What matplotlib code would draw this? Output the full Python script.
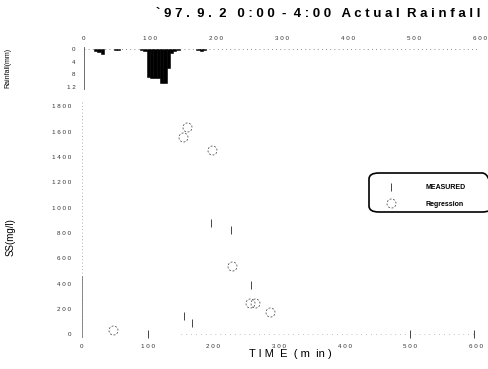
import numpy as np
import matplotlib
matplotlib.use("Agg")
import matplotlib.pyplot as plt
from matplotlib.path import Path
from matplotlib.patches import FancyBboxPatch

plt.rcParams["font.family"] = ["Liberation Sans", "DejaVu Sans"]

# Rainfall (5-minute totals, mm)
rain_time = [15, 20, 25, 45, 50, 85, 90, 95, 100, 105, 110, 115, 120, 125, 130, 135, 140, 170, 175, 180]
rain_mm = [0.6, 1.0, 1.8, 0.3, 0.3, 0.5, 0.8, 8.8, 9.0, 9.0, 9.0, 10.5, 10.5, 6.0, 1.5, 0.8, 0.4, 0.4, 0.8, 0.5]

# Suspended solids
meas_time = [101, 156, 167, 197, 227, 257, 500, 597]
meas_ss = [5, 140, 85, 880, 820, 385, 0, 0]
reg_time = [47, 154, 160, 198, 228, 256, 263, 286]
reg_ss = [32, 1555, 1634, 1452, 537, 245, 245, 174]

x_ticks = [0, 100, 200, 300, 400, 500, 600]
ss_ticks = [0, 200, 400, 600, 800, 1000, 1200, 1400, 1600, 1800]
rain_ticks = [0, 4, 8, 12]


def spaced(v):
    return " ".join(str(v))


def dashed_circle(n=8, gap=0.45):
    verts, codes = [], []
    step = 2 * np.pi / n
    for k in range(n):
        a = np.linspace(k * step, k * step + step * (1 - gap), 5)
        for j, ang in enumerate(a):
            verts.append((np.cos(ang), np.sin(ang)))
            codes.append(Path.MOVETO if j == 0 else Path.LINETO)
    return Path(verts, codes)


fig = plt.figure(figsize=(4.88, 3.69), dpi=100)
fig.patch.set_facecolor("white")

W, H = 488, 369

# ---- rainfall panel ----
ax_r = fig.add_axes([84 / W, 1 - 89 / H, 396 / W, 42 / H])
ax_r.bar(rain_time, rain_mm, width=5, align="edge", color="black", edgecolor="black", linewidth=0.4)
ax_r.set_xlim(0, 600)
ax_r.set_ylim(12.5, -0.5)
for s in ["top", "right", "bottom"]:
    ax_r.spines[s].set_visible(False)
ax_r.spines["left"].set_linewidth(0.6)
ax_r.spines["left"].set_color("#555555")
ax_r.axhline(0, color="#666666", lw=0.6, ls=(0, (1, 4)))
ax_r.xaxis.tick_top()
ax_r.set_xticks(x_ticks)
ax_r.set_xticklabels([spaced(v) for v in x_ticks], fontsize=4.5, color="#333333")
ax_r.set_yticks(rain_ticks)
ax_r.set_yticklabels([spaced(v) for v in rain_ticks], fontsize=4.5, color="#333333")
ax_r.tick_params(length=0, pad=6)
ax_r.tick_params(axis="x", pad=4)

# ---- suspended solids panel ----
ax = fig.add_axes([82 / W, 1 - 338 / H, 394 / W, 238 / H])
ax.set_xlim(0, 600)
ax.set_ylim(-30, 1850)
for s in ["top", "right", "bottom", "left"]:
    ax.spines[s].set_visible(False)
ax.axvline(0, ymin=0.02, ymax=1.0, color="#999999", lw=0.6, ls=(0, (1, 3)))
ax.axvline(0, ymin=0.0, ymax=0.26, color="#777777", lw=0.6)
ax.axhline(0, xmin=0.25, xmax=1.0, color="#888888", lw=0.5, ls=(0, (1, 6)))

ax.plot(meas_time, meas_ss, linestyle="none", marker="|", markersize=6,
        markeredgewidth=0.7, color="#444444", label="MEASURED")
ax.plot(reg_time, reg_ss, linestyle="none", marker=dashed_circle(), markersize=6.5,
        markeredgewidth=0.6, markerfacecolor="none", markeredgecolor="#555555",
        label="Regression")

ax.set_xticks(x_ticks)
ax.set_xticklabels([spaced(v) for v in x_ticks], fontsize=4.5, color="#333333")
ax.set_yticks(ss_ticks)
ax.set_yticklabels([spaced(v) for v in ss_ticks], fontsize=4.5, color="#333333")
ax.tick_params(length=0, pad=8)
ax.tick_params(axis="x", pad=4)
ax.set_xlabel("T I M  E  ( m  in )", fontsize=8)
ax.xaxis.set_label_coords((290 - 82) / 394, -(354 - 338) / 238, transform=ax.transAxes)
ax.xaxis.label.set_verticalalignment("center")

# legend: entries without frame, plus a rounded box around them
leg = ax.legend(loc="center left", bbox_to_anchor=((386 - 82) / 394, (338 - 196) / 238),
                frameon=False, prop={"size": 5, "weight": "bold"},
                handletextpad=4.2, labelspacing=1.3, borderpad=0, borderaxespad=0,
                handlelength=1.5)
box_x0, box_x1 = (369 - 82) / 394, (492 - 82) / 394
box_y0, box_y1 = (338 - 212) / 238, (338 - 173) / 238
ax.add_patch(FancyBboxPatch((box_x0, box_y0), box_x1 - box_x0, box_y1 - box_y0,
                            boxstyle="round,pad=0,rounding_size=0.025",
                            transform=ax.transAxes, facecolor="none",
                            edgecolor="black", linewidth=1.2, clip_on=False))

# axis titles
fig.text(8 / W, 1 - 68 / H, "Rainfall(mm)", rotation=90, ha="center", va="center", fontsize=5)
fig.text(11 / W, 1 - 237 / H, "SS(mg/l)", rotation=90, ha="center", va="center", fontsize=7)

fig.text(318 / W, 1 - 14 / H, "` 9 7 .  9 .  2   0 : 0 0  -  4 : 0 0   A c t u a l  R a i n f a l l",
         ha="center", va="center", fontsize=9.5, fontweight="bold")

fig.savefig("out.png", dpi=100, facecolor="white")
